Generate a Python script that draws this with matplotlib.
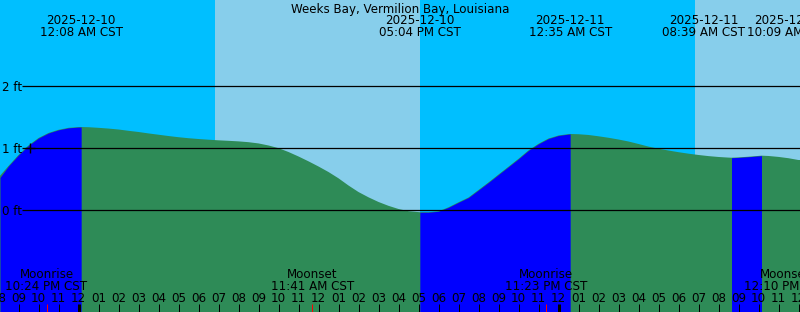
import numpy as np
import matplotlib
matplotlib.use("Agg")
import matplotlib.pyplot as plt
from matplotlib.transforms import blended_transform_factory

plt.rcParams['font.family'] = ['DejaVu Sans']

# ---------------- data (hours since 2025-12-10 00:00 CST) ----------------
TITLE = "Weeks Bay, Vermilion Bay, Louisiana"

# half-hourly readings of the tide curve, from -4.0 h to 36.0 h
sample_times = [i / 2 for i in range(-8, 73)]
sample_levels = [
    0.528, 0.713, 0.890, 1.043, 1.163, 1.244, 1.295, 1.327,   # -4.0 .. -0.5
    1.339, 1.337, 1.327, 1.315, 1.300, 1.279, 1.260, 1.237,   # 0.0 .. 3.5
    1.216, 1.195, 1.176, 1.160, 1.147, 1.136, 1.126, 1.118,   # 4.0 .. 7.5
    1.109, 1.096, 1.076, 1.043, 1.000, 0.938, 0.866, 0.788,   # 8.0 .. 11.5
    0.705, 0.616, 0.515, 0.399, 0.294, 0.209, 0.134, 0.072,   # 12.0 .. 15.5
    0.021, -0.014, -0.029, -0.031, -0.016, 0.048, 0.129, 0.206,  # 16.0 .. 19.5
    0.327, 0.449, 0.576, 0.702, 0.829, 0.964, 1.070, 1.155,   # 20.0 .. 23.5
    1.204, 1.226, 1.224, 1.212, 1.191, 1.167, 1.139, 1.107,   # 24.0 .. 27.5
    1.067, 1.025, 0.991, 0.962, 0.935, 0.911, 0.890, 0.872,   # 28.0 .. 31.5
    0.858, 0.848, 0.851, 0.862, 0.875, 0.874, 0.859, 0.838,   # 32.0 .. 35.5
    0.809,                                                    # 36.0
]

tide_times = [0 + 8 / 60, 17 + 4 / 60, 24 + 35 / 60, 32 + 39 / 60, 34 + 9 / 60]
tide_levels = [1.34, -0.031, 1.228, 0.846, 0.879]
tide_types = ["H", "L", "H", "L", "H"]
tide_dates = ["2025-12-10", "2025-12-10", "2025-12-11", "2025-12-11", "2025-12-11"]
tide_clock = ["12:08 AM CST", "05:04 PM CST", "12:35 AM CST", "08:39 AM CST", "10:09 AM CST"]

sun_times = [6.82, 17.07, 30.82]
sun_kinds = ["rise", "set", "rise"]

moon_times = [-1.6, 11 + 41 / 60, 23 + 23 / 60, 36 + 10 / 60]
moon_names = ["Moonrise", "Moonset", "Moonrise", "Moonset"]
moon_clock = ["10:24 PM CST", "11:41 AM CST", "11:23 PM CST", "12:10 PM CST"]

mark_time = -2.425
mark_level = 1.0

grid_levels = [0, 1, 2]
grid_labels = ["0 ft", "1 ft", "2 ft"]

# ---------------- styling ----------------
NIGHT = "#00BFFF"
DAY = "#87CEEB"
FLOOD = "#0000FF"
EBB = "#2E8B57"
FS = 8.6

W, H, DPI = 800, 312, 100
PX0, PPH = 78.5, 20.0          # pixel of hour 0, pixels per hour
ZROW, PPF = 210.3, 62.15       # pixel row of 0 ft, pixels per foot

xmin, xmax = -PX0 / PPH, (W - PX0) / PPH
ymin, ymax = -(H - ZROW) / PPF, ZROW / PPF

fig = plt.figure(figsize=(W / DPI, H / DPI), dpi=DPI, facecolor=NIGHT)
ax = fig.add_axes([0, 0, 1, 1], facecolor=NIGHT)
ax.set_xlim(xmin, xmax)
ax.set_ylim(ymin, ymax)
ax.set_xticks([])
ax.set_yticks([])
for s in ax.spines.values():
    s.set_visible(False)


def ya(p):
    """pixel row from top -> axes fraction"""
    return 1 - p / H


bt = blended_transform_factory(ax.transData, ax.transAxes)

# day/night background
start = xmin
in_day = sun_kinds[0] == "set"
for t, k in zip(sun_times, sun_kinds):
    if k == "rise":
        start = t
        in_day = True
    else:
        ax.axvspan(start, t, color=DAY, lw=0, zorder=0)
        in_day = False
if in_day:
    ax.axvspan(start, xmax, color=DAY, lw=0, zorder=0)

# water
t_all = np.array(sample_times + tide_times, float)
l_all = np.array(sample_levels + tide_levels, float)
o = np.argsort(t_all)
t_all, l_all = t_all[o], l_all[o]
t_ext = np.concatenate([[xmin], t_all, [xmax]])
l_ext = np.concatenate([[l_all[0]], l_all, [l_all[-1]]])
ax.fill_between(t_ext, l_ext, ymin, color=EBB, lw=0, zorder=1)
bounds = [xmin] + tide_times + [xmax]
for i in range(len(bounds) - 1):
    if i < len(tide_types) and tide_types[i] == "H":
        a, b = bounds[i], bounds[i + 1]
        m = (t_ext >= a - 1e-9) & (t_ext <= b + 1e-9)
        ax.fill_between(t_ext[m], l_ext[m], ymin, color=FLOOD, lw=0, zorder=2)

# level lines and labels
line_x0 = xmin + 22 / PPH
ax.hlines(grid_levels, line_x0, xmax, color="black", lw=0.9, zorder=3)
for lv, lab in zip(grid_levels, grid_labels):
    ax.text(2 / W, lv - 4.7 / PPF, lab,
            transform=blended_transform_factory(ax.transAxes, ax.transData),
            ha="left", va="baseline", fontsize=FS, color="black", zorder=5)

ax.plot([mark_time], [mark_level], marker="+", ms=7, mew=1.0, color="black", zorder=4)

# title
ax.text(0.5, ya(12.5), TITLE, transform=ax.transAxes, ha="center", va="baseline",
        fontsize=FS, color="black", zorder=5)

# tide event labels (pushed apart when too close)
min_sep = 85 / PPH
pos = list(tide_times)
for _ in range(5):
    for i in range(len(pos) - 1):
        if pos[i + 1] - pos[i] < min_sep:
            mid = (pos[i] + pos[i + 1]) / 2
            pos[i], pos[i + 1] = mid - min_sep / 2, mid + min_sep / 2
for x, d, c in zip(pos, tide_dates, tide_clock):
    ax.text(x, ya(24), d, transform=bt, ha="center", va="baseline", fontsize=FS,
            color="black", zorder=5)
    ax.text(x, ya(36), c, transform=bt, ha="center", va="baseline", fontsize=FS,
            color="black", zorder=5)

# moon labels
for t, n, c in zip(moon_times, moon_names, moon_clock):
    x = min(t, xmax - 0.73)
    ax.text(x, ya(278.3), n, transform=bt, ha="center", va="baseline", fontsize=FS,
            color="black", zorder=5)
    ax.text(x, ya(290), c, transform=bt, ha="center", va="baseline", fontsize=FS,
            color="black", zorder=5)

# hour ticks and labels
for h in range(-4, 37):
    thick = (h % 24 == 0)
    ax.plot([h, h], [ya(304), 0], transform=bt, color="black",
            lw=2.16 if thick else 0.72, solid_capstyle="butt", zorder=4)
    lab = "%02d" % ((h % 12) or 12)
    ax.text(h, ya(301.7), lab, transform=bt, ha="center", va="baseline",
            fontsize=FS, color="black", zorder=5)
for t in moon_times:
    ax.plot([t, t], [ya(304), 0], transform=bt, color="red", lw=0.72,
            solid_capstyle="butt", zorder=4)

fig.savefig("out.png", dpi=DPI, facecolor=NIGHT)
